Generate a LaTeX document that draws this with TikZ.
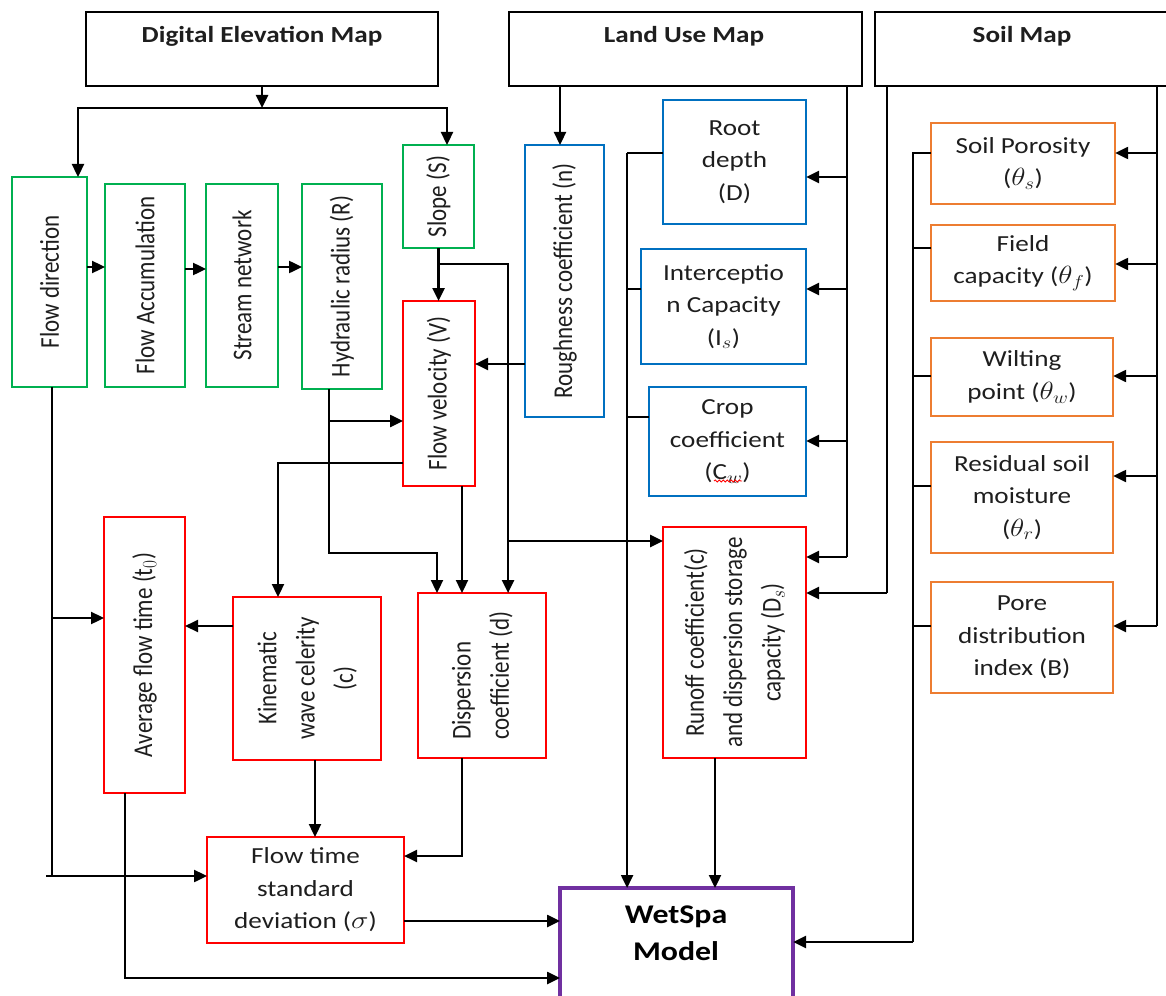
\documentclass[tikz,border=0pt]{standalone}
\usepackage{fontspec}
\setmainfont{Carlito}
\usepackage{graphicx}
\usetikzlibrary{arrows.meta,decorations.pathmorphing}

\definecolor{boxgreen}{RGB}{0,176,80}
\definecolor{boxblue}{RGB}{0,112,192}
\definecolor{boxred}{RGB}{255,0,0}
\definecolor{boxorange}{RGB}{237,125,49}
\definecolor{boxpurple}{RGB}{112,48,160}
\definecolor{inkgray}{RGB}{30,30,30}

% vertical (rotated) multi-line labels
\newcommand{\rotlines}[1]{\rotatebox{90}{\begin{tabular}{@{}c@{}}#1\end{tabular}}}
\newcommand{\rotlinesl}[1]{\rotatebox{90}{\begin{tabular}{@{}l@{}}#1\end{tabular}}}

\begin{document}
\begin{tikzpicture}[
  x=0.847458pt, y=-1pt, xscale=1.18,
  every node/.append style={transform shape},
  bx/.style 2 args={minimum width={#1pt/1.18}, minimum height={#2pt}},
  cbox/.style={draw, line width=2.3pt, inner sep=0pt, outer sep=0pt, align=center,
    text=inkgray, font=\fontsize{23}{32.5}\selectfont},
  mapbox/.style={cbox, draw=black},
  gbox/.style={cbox, draw=boxgreen},
  bbox/.style={cbox, draw=boxblue},
  rbox/.style={cbox, draw=boxred},
  obox/.style={cbox, draw=boxorange},
  pbox/.style={cbox, draw=boxpurple, line width=4pt},
  maptitle/.style={inner sep=0pt, text=inkgray, font=\fontsize{23}{30}\selectfont\bfseries},
  modeltitle/.style={inner sep=0pt, align=center, text=black, font=\fontsize{27}{37}\selectfont\bfseries},
  link/.style={line width=2.3pt, black},
  arr/.style={link, -{Triangle[length=13pt,width=12pt]}},
]
\useasboundingbox (0,0) rectangle (1166,995);

% ---------- input maps ----------
\node[mapbox, bx={352}{74}] (dem)  at (262,49)    {};
\node[mapbox, bx={353}{74}] (lum)  at (685.5,49)  {};
\node[mapbox, bx={295}{74}] (soil) at (1022.5,49) {};
\node[maptitle] (demt)  at (262,36)    {Digital Elevation Map};
\node[maptitle] (lumt)  at (684,36)    {Land Use Map};
\node[maptitle] (soilt) at (1022,36)   {Soil Map};

% ---------- terrain derived layers ----------
\node[gbox, bx={75}{210}]  (fd)    at (49.5,282)   {\rotatebox{90}{Flow direction}};
\node[gbox, bx={80}{203}]  (fa)    at (145,285.5)  {\rotatebox{90}{Flow Accumulation}};
\node[gbox, bx={72}{203}]  (sn)    at (242,285.5)  {\rotatebox{90}{Stream network}};
\node[gbox, bx={80}{205}]  (hr)    at (342,286.5)  {\rotatebox{90}{Hydraulic radius (R)}};
\node[gbox, bx={71}{103}]  (slope) at (438.5,196.5){\rotatebox{90}{Slope (S)}};

% ---------- land use parameters ----------
\node[bbox, bx={79}{272}]  (rough) at (564.5,281)  {\rotatebox{90}{Roughness coefficient (n)}};
\node[bbox, bx={143}{124}] (root)  at (734.5,162)  {Root\\depth\\(D)};
\node[bbox, bx={165}{115}] (inter) at (723.5,306.5){Interceptio\\n Capacity\\(I$_s$)};
\node[bbox, bx={157}{109}] (crop)  at (727.5,441.5){Crop\\coefficient\\(C$_w$)};

% ---------- routing parameters ----------
\node[rbox, bx={72}{185}]  (fv)     at (439,393.5)  {\rotatebox{90}{Flow velocity (V)}};
\node[rbox, bx={81}{276}]  (avg)    at (144.5,655)  {\rotatebox{90}{Average flow time (t$_0$)}};
\node[rbox, bx={148}{163}] (kin)    at (307,678.5)  {\rotlines{Kinematic\\wave celerity\\(c)}};
\node[rbox, bx={128}{165}] (disp)   at (482,675.5)  {\rotlinesl{Dispersion\\coefficient (d)}};
\node[rbox, bx={143}{231}] (runoff) at (734.5,642.5){\rotlines{Runoff coefficient(c)\\and dispersion storage\\capacity (D$_s$)}};
\node[rbox, bx={197}{106}] (fts)    at (305.5,890)  {Flow time\\standard\\deviation (\(\sigma\))};

% ---------- soil parameters ----------
\node[obox, bx={184}{81}]  (por)  at (1023,163.5) {Soil Porosity\\(\(\theta_s\))};
\node[obox, bx={184}{76}]  (fc)   at (1023,263)   {Field\\capacity (\(\theta_f\))};
\node[obox, bx={182}{78}]  (wp)   at (1022,377)   {Wilting\\point (\(\theta_w\))};
\node[obox, bx={182}{111}] (res)  at (1022,497.5) {Residual soil\\moisture\\(\(\theta_r\))};
\node[obox, bx={182}{111}] (pore) at (1022,637.5) {Pore\\distribution\\index (B)};

% ---------- model ----------
\node[pbox, bx={233}{124}] (wet)  at (676.5,950) {};
\node[modeltitle] (wett) at (676,933) {WetSpa\\Model};

% spell-check underline under C_w
\draw[boxred, line width=0.8pt, decorate,
      decoration={snake, amplitude=1.1pt, segment length=4pt}] (714,481) -- (742,481);

% ---------- DEM distribution ----------
\coordinate (demsplit) at (262,108);
\draw[arr] (dem.south) -- (demsplit);
\draw[arr] (demsplit) -| (fd.north -| 78,0);
\draw[arr] (demsplit) -| (slope.north -| 447,0);

\draw[arr] (fd.east |- 0,267) -- (fa.west |- 0,267);
\draw[arr] (fa.east |- 0,269) -- (sn.west |- 0,269);
\draw[arr] (sn.east |- 0,267) -- (hr.west |- 0,267);

% slope
\draw[arr] (slope.south) -- (fv.north -| slope.south);
\coordinate (sj) at (508,264);
\coordinate (sr) at (508,541);
\draw[arr] (slope.south |- sj) -- (sj) -- (disp.north -| sj);
\draw[arr] (sr) -- (runoff.west |- sr);

% roughness
\draw[arr] (lum.south -| 560,0) -- (rough.north -| 560,0);
\draw[arr] (rough.west |- 0,364) -- (fv.east |- 0,364);

% hydraulic radius
\coordinate (hj) at (329,553);
\coordinate (hb) at (329,421);
\draw[arr] (hr.south -| hj) -- (hj) -| (disp.north -| 437,0);
\draw[arr] (hb) -- (fv.west |- hb);

% flow velocity
\draw[arr] (fv.west |- 0,463) -| (kin.north -| 278,0);
\draw[arr] (fv.south -| 462,0) -- (disp.north -| 462,0);

% land use bus
\coordinate (lb) at (847,557);
\draw[link] (lum.south -| lb) -- (lb);
\draw[arr] (lb) -- (runoff.east |- lb);
\draw[arr] (lb |- 0,177) -- (root.east |- 0,177);
\draw[arr] (lb |- 0,289) -- (inter.east |- 0,289);
\draw[arr] (lb |- 0,441) -- (crop.east |- 0,441);

% land use parameters to model
\coordinate (lp) at (627,153);
\draw[link] (root.west |- lp) -- (lp);
\draw[arr] (lp) -- (wet.north -| lp);
\draw[link] (inter.west |- 0,289) -- (lp |- 0,289);
\draw[link] (crop.west |- 0,417) -- (lp |- 0,417);

% soil buses
\coordinate (sa) at (887,593);
\draw[link] (soil.south -| sa) -- (sa);
\draw[arr] (sa) -- (runoff.east |- sa);

\coordinate (sb) at (1157,626);
\draw[link] (soil.south -| sb) -- (sb);
\draw[arr] (sb) -- (pore.east |- sb);
\draw[arr] (sb |- 0,153) -- (por.east |- 0,153);
\draw[arr] (sb |- 0,264) -- (fc.east |- 0,264);
\draw[arr] (sb |- 0,376) -- (wp.east |- 0,376);
\draw[arr] (sb |- 0,476) -- (res.east |- 0,476);

\coordinate (sc) at (913,153);
\coordinate (sd) at (913,942);
\draw[link] (por.west |- sc) -- (sc) -- (sd);
\draw[arr] (sd) -- (wet.east |- sd);
\draw[link] (fc.west |- 0,248) -- (sc |- 0,248);
\draw[link] (wp.west |- 0,376) -- (sc |- 0,376);
\draw[link] (res.west |- 0,486) -- (sc |- 0,486);
\draw[link] (pore.west |- 0,626) -- (sc |- 0,626);

% routing chain
\coordinate (fj) at (52,876);
\coordinate (fk) at (46,876);
\draw[link] (fd.south -| fj) -- (fj);
\draw[arr] (fk) -- (fts.west |- fk);
\draw[arr] (fj |- 0,618) -- (avg.west |- 0,618);
\draw[arr] (kin.west |- 0,626) -- (avg.east |- 0,626);
\draw[arr] (kin.south -| 315,0) -- (fts.north -| 315,0);
\coordinate (dj) at (462,856);
\draw[arr] (disp.south -| dj) -- (dj) -- (fts.east |- dj);
\coordinate (aj) at (125,978);
\draw[arr] (avg.south -| aj) -- (aj) -- (wet.west |- aj);
\draw[arr] (fts.east |- 0,921) -- (wet.west |- 0,921);
\draw[arr] (runoff.south -| 715,0) -- (wet.north -| 715,0);
\end{tikzpicture}
\end{document}
